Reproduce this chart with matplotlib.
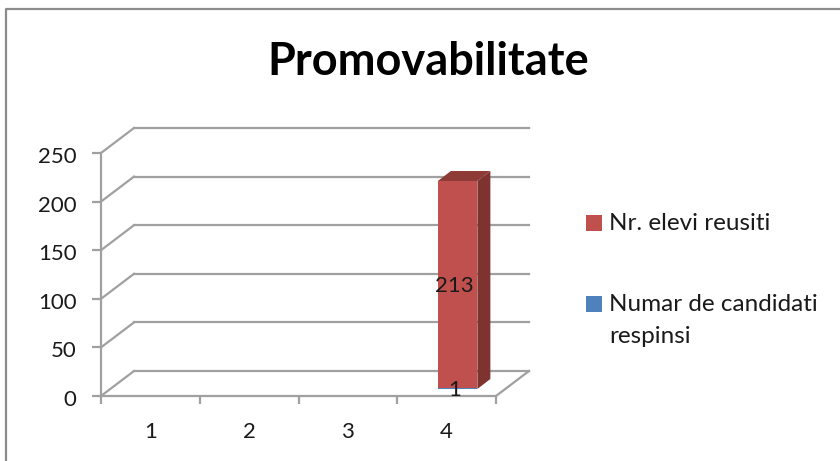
import matplotlib
matplotlib.use("Agg")
import matplotlib.pyplot as plt
from matplotlib.lines import Line2D
from matplotlib.patches import Polygon, Rectangle
from matplotlib.transforms import Affine2D, IdentityTransform

categories = [1, 2, 3, 4]
y_ticks = [0, 50, 100, 150, 200, 250]
respinsi = [0, 0, 0, 1]
reusiti = [0, 0, 0, 213]
title = "Promovabilitate"
label_reusiti = "Nr. elevi reusiti"
label_respinsi = "Numar de candidati\nrespinsi"

W, H = 840, 461
GRID = "#a0a0a0"
LW = 1.6
RED = "#c0504d"
RED_SIDE = "#7f3330"
RED_TOP = "#8e3b38"
BLUE = "#4f81bd"
TEXT = "#1a1a1a"
px = IdentityTransform()

plt.rcParams["font.family"] = ["Lato", "DejaVu Sans"]

fig = plt.figure(figsize=(W / 100, H / 100), dpi=100)
# front plane of the fake 3d box, in pixels
x0, x1, y0, y1 = 101, 496, 396, 153
ax = fig.add_axes([x0 / W, 1 - y0 / H, (x1 - x0) / W, (y0 - y1) / H])
ax.set_xlim(0.5, 4.5)
ax.set_ylim(0, 250)
ax.patch.set_visible(False)

# depth of the box and of the bars, in pixels
front = ax.transData
back = front + Affine2D().translate(33, 25)
bar_near = front + Affine2D().translate(11, 7)
bar_far = front + Affine2D().translate(24, 17)


def depth_line(x, y):
    p0 = front.transform((x, y))
    p1 = back.transform((x, y))
    ax.add_line(Line2D([p0[0], p1[0]], [p0[1], p1[1]], color=GRID, lw=LW, transform=px,
                       zorder=1, clip_on=False))


# walls and floor
for v in y_ticks:
    ax.plot([0.5, 4.5], [v, v], color=GRID, lw=LW, transform=back, clip_on=False, zorder=1)
    depth_line(0.5, v)
depth_line(4.5, 0)

# stacked bars with their side and top faces
w = 0.4
for c, low, high in zip(categories, respinsi, reusiti):
    if low + high == 0:
        continue
    top = low + high
    l, r = c - w / 2, c + w / 2
    ax.bar(c, low, width=w, color=BLUE, transform=bar_near, zorder=4, clip_on=False)
    ax.bar(c, high, bottom=low, width=w, color=RED, transform=bar_near, zorder=4, clip_on=False)
    a = bar_near.transform([(r, 0), (r, top), (l, top)])
    b = bar_far.transform([(r, 0), (r, top), (l, top)])
    ax.add_patch(Polygon([a[0], b[0], b[1], a[1]], color=RED_SIDE, transform=px, zorder=3, lw=0, clip_on=False))
    ax.add_patch(Polygon([a[2], a[1], b[1], b[2]], color=RED_TOP, transform=px, zorder=3, lw=0, clip_on=False))
    nudge = Affine2D().translate(-3, -1)
    ax.text(c, low + high / 2, str(high), transform=bar_near + nudge, ha="center", va="center",
            fontsize=16, color=TEXT, zorder=6)
    ax.text(c, low / 2, str(low), transform=bar_near + nudge, ha="center", va="center",
            fontsize=16, color=TEXT, zorder=6)

for s in ["top", "right"]:
    ax.spines[s].set_visible(False)
for s in ["left", "bottom"]:
    ax.spines[s].set_color(GRID)
    ax.spines[s].set_linewidth(LW)
ax.set_yticks(y_ticks)
ax.set_xticks(categories)
ax.set_xticks([0.5, 1.5, 2.5, 3.5, 4.5], minor=True)
ax.tick_params(axis="y", length=6.5, width=LW, color=GRID, pad=11, labelsize=16, labelcolor=TEXT)
ax.tick_params(axis="x", which="major", length=0, pad=19, labelsize=16, labelcolor=TEXT)
ax.tick_params(axis="x", which="minor", length=6, width=LW, color=GRID)
for lab in ax.get_yticklabels():
    lab.set_transform(lab.get_transform() + Affine2D().translate(0, -2))

fig.text(428 / W, 1 - 62 / H, title, ha="center", va="center", fontsize=32.5, fontweight="bold", color="black")

# legend laid out by hand so the marker sits on the first line of the wrapped label
for color, label, top_px in [(RED, label_reusiti, 215), (BLUE, label_respinsi, 296)]:
    fig.add_artist(Rectangle((586 / W, 1 - (top_px + 16) / H), 16 / W, 16 / H, color=color, lw=0,
                             transform=fig.transFigure))
    fig.text(609 / W, 1 - (top_px - 2) / H, label, ha="left", va="top", fontsize=17.5,
             color=TEXT, linespacing=1.65)

# outer chart frame, runs off the right and bottom of the image
fig.add_artist(Line2D([6 / W, 6 / W, 1], [0, 1 - 9 / H, 1 - 9 / H], color="#8c8c8c", lw=1.6))

fig.savefig("out.png", dpi=100)
